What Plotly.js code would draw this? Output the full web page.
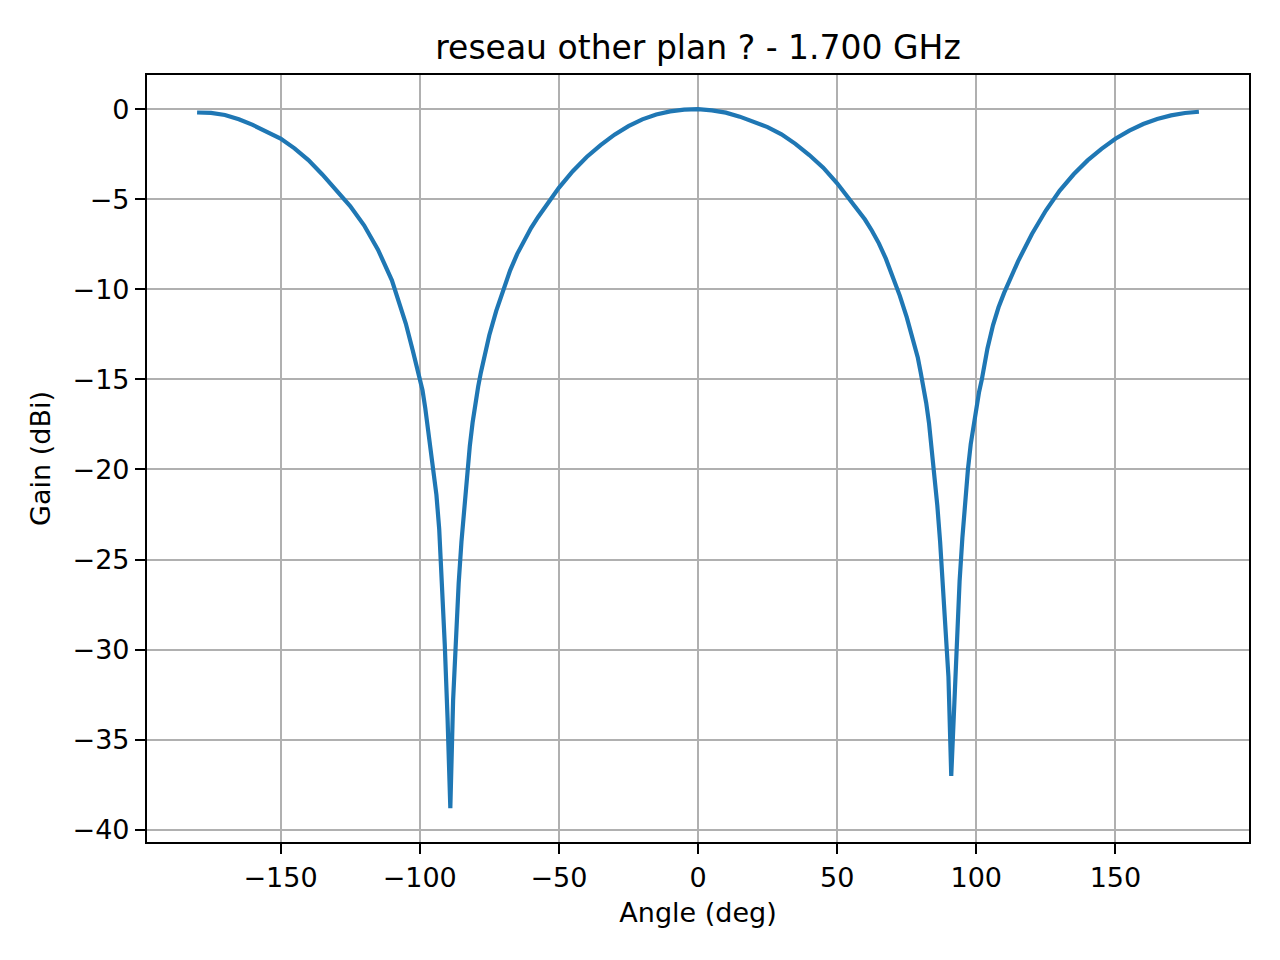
<!DOCTYPE html>
<html>
<head>
<meta charset="utf-8">
<script src="https://cdn.plot.ly/plotly-3.0.1.min.js"></script>
<style>
html, body { margin: 0; padding: 0; background: #fff; }
#plot { width: 1280px; height: 960px; }
</style>
</head>
<body>
<div id="plot"></div>
<script>
// Gain pattern, angle in degrees, gain in dBi.
var angle = [
-180, -175, -170, -165, -160, -155, -150, -145, -140, -135, -130, -125, -120, -115, -110, -107.5, -105, -102.5,
-100, -99, -98, -97, -96, -95, -94, -93, -92, -91, -90, -89, -88, -87, -86, -85, -84, -83, -82, -81, -80,
-79, -78, -77, -76, -75, -72.5, -70, -67.5, -65, -62.5, -60, -57.5, -55, -52.5, -50, -45, -40, -35, -30, -25, -20, -15, -10, -5,
0, 5, 10, 15, 20, 25, 30, 35, 40, 45, 50, 55, 57.5, 60, 62.5, 65, 67.5, 70, 72.5, 75, 78, 79,
80, 81, 82, 83, 84, 85, 86, 87, 88, 89, 90, 91, 92, 93, 94, 95, 96, 97, 98, 99, 100, 101, 102,
104, 106, 108, 110, 112.5, 115, 120, 125, 130, 135, 140, 145, 150, 155, 160, 165, 170, 175, 180
];
var gain = [
-0.19, -0.21, -0.33, -0.57, -0.88, -1.25, -1.64, -2.18, -2.83, -3.63, -4.5, -5.38, -6.45, -7.8, -9.5, -10.7, -11.9, -13.4,
-14.9, -15.6, -16.6, -17.7, -18.8, -20.0, -21.4, -23.3, -26.3, -29.7, -33.8, -38.8, -32.8, -29.0, -26.3, -24.0, -22.0, -20.1, -18.7, -17.4, -16.3,
-15.4, -14.6, -13.9, -13.2, -12.55, -11.2, -10.0, -8.95, -8.05, -7.3, -6.6, -6.0, -5.47, -4.9, -4.37, -3.45, -2.66, -2.0, -1.42, -0.95, -0.57, -0.3, -0.13, -0.03,
0, -0.07, -0.2, -0.42, -0.68, -1.0, -1.4, -1.93, -2.55, -3.25, -4.12, -5.13, -5.6, -6.13, -6.75, -7.45, -8.3, -9.3, -10.35, -11.55, -13.1, -13.8,
-14.6, -15.4, -16.3, -17.4, -18.8, -20.3, -22.0, -24.0, -26.3, -28.7, -31.5, -37.0, -33.5, -28.8, -26.2, -23.8, -21.7, -20.0, -18.6, -17.5, -16.5, -15.7, -15.0,
-13.3, -12.0, -11.0, -10.2, -9.3, -8.45, -6.93, -5.63, -4.52, -3.62, -2.85, -2.21, -1.65, -1.2, -0.83, -0.55, -0.35, -0.22, -0.15
];

var titleText = 'reseau other plan ? - 1.700 GHz';
var xLabel = 'Angle (deg)';
var yLabel = 'Gain (dBi)';

var font = 'DejaVu Sans, sans-serif';

var traces = [{
  x: angle,
  y: gain,
  type: 'scatter',
  mode: 'lines',
  line: {color: '#1f77b4', width: 4.2},
  showlegend: false,
  hoverinfo: 'x+y'
}];

var axisCommon = {
  showline: true,
  linecolor: '#000',
  linewidth: 2.2,
  mirror: true,
  ticks: 'outside',
  ticklen: 10,
  tickwidth: 2.2,
  tickcolor: '#000',
  showgrid: true,
  gridcolor: '#b0b0b0',
  gridwidth: 2.2,
  zeroline: false,
  tickfont: {family: font, size: 27, color: '#000'}
};

var layout = {
  width: 1280,
  height: 960,
  paper_bgcolor: '#fff',
  plot_bgcolor: '#fff',
  margin: {l: 147, r: 31, t: 75, b: 118},
  font: {family: font, color: '#000'},
  title: {
    text: titleText,
    font: {family: font, size: 33, color: '#000'},
    x: 0.5,
    xref: 'paper',
    xanchor: 'center',
    y: 1 - 47 / 960,
    yref: 'container',
    yanchor: 'middle'
  },
  xaxis: Object.assign({}, axisCommon, {
    range: [-198, 198],
    tickmode: 'linear',
    tick0: -150,
    dtick: 50,
    title: {text: xLabel, font: {family: font, size: 27, color: '#000'}, standoff: 12}
  }),
  yaxis: Object.assign({}, axisCommon, {
    range: [-40.67, 1.89],
    tickmode: 'linear',
    tick0: 0,
    dtick: 5,
    title: {text: yLabel, font: {family: font, size: 27, color: '#000'}, standoff: 14}
  })
};

Plotly.newPlot('plot', traces, layout, {displayModeBar: false, responsive: false});
</script>
</body>
</html>
